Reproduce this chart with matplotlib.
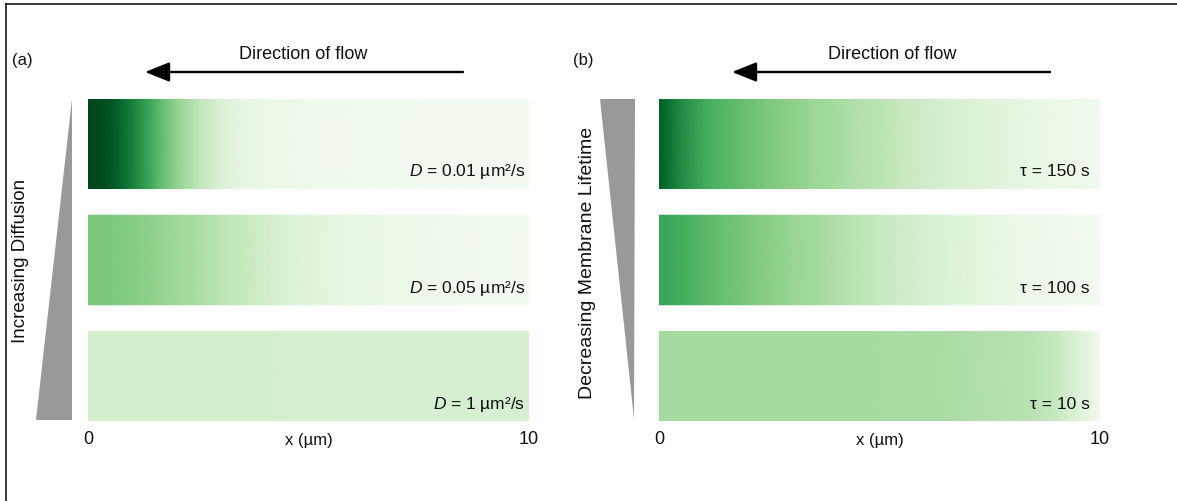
import numpy as np
import matplotlib
matplotlib.use("Agg")
import matplotlib.pyplot as plt
from matplotlib.patches import Polygon
from matplotlib.lines import Line2D

plt.rcParams['font.family'] = ['Liberation Sans', 'DejaVu Sans']
plt.rcParams['mathtext.fontset'] = 'custom'
plt.rcParams['mathtext.it'] = 'Liberation Sans:italic'
plt.rcParams['mathtext.rm'] = 'Liberation Sans'

# ---------------- data ----------------
x_samples = [0, 0.5, 1, 1.5, 2, 2.5, 3, 3.5, 4, 4.5, 5, 5.5, 6, 6.5, 7, 7.5, 8, 8.5, 9, 9.5, 10]

labels_a = ["$D$ = 0.01 µm²/s", "$D$ = 0.05 µm²/s", "$D$ = 1 µm²/s"]
conc_D001 = [1.00, 0.95, 0.80, 0.60, 0.42, 0.28, 0.17, 0.11, 0.08, 0.065, 0.055,
             0.05, 0.045, 0.042, 0.04, 0.037, 0.035, 0.033, 0.032, 0.03, 0.03]
conc_D005 = [0.48, 0.47, 0.45, 0.42, 0.38, 0.34, 0.29, 0.25, 0.21, 0.17, 0.14,
             0.12, 0.10, 0.09, 0.08, 0.07, 0.06, 0.05, 0.045, 0.04, 0.035]
conc_D1 = [0.20, 0.20, 0.20, 0.20, 0.20, 0.20, 0.20, 0.20, 0.20, 0.195, 0.195,
           0.195, 0.19, 0.19, 0.19, 0.19, 0.19, 0.19, 0.19, 0.19, 0.19]

labels_b = ["τ = 150 s", "τ = 100 s", "τ = 10 s"]
conc_t150 = [0.92, 0.75, 0.63, 0.57, 0.52, 0.47, 0.43, 0.39, 0.36, 0.32, 0.29,
             0.25, 0.22, 0.19, 0.17, 0.145, 0.12, 0.10, 0.08, 0.06, 0.04]
conc_t100 = [0.65, 0.62, 0.57, 0.52, 0.48, 0.44, 0.40, 0.37, 0.33, 0.29, 0.25,
             0.22, 0.19, 0.165, 0.14, 0.11, 0.085, 0.07, 0.06, 0.045, 0.03]
conc_t10 = [0.36, 0.36, 0.36, 0.36, 0.36, 0.36, 0.36, 0.36, 0.36, 0.36, 0.355,
            0.35, 0.345, 0.34, 0.33, 0.32, 0.31, 0.295, 0.25, 0.16, 0.05]

xticks = [0, 10]
xtick_labels = ["0", "10"]
x_label = "x (µm)"
panel_letters = ["(a)", "(b)"]
side_labels = ["Increasing Diffusion", "Decreasing Membrane Lifetime"]
flow_label = "Direction of flow"

# ---------------- figure ----------------
W, H = 1177, 501
fig = plt.figure(figsize=(W / 100, H / 100), dpi=100)

# overlay axes in pixel units for decorations
ov = fig.add_axes([0, 0, 1, 1])
ov.set_xlim(0, W)
ov.set_ylim(H, 0)
ov.axis('off')

# frame lines (top and left)
ov.add_line(Line2D([5.5, W], [3.5, 3.5], color='black', lw=1.1))
ov.add_line(Line2D([5.5, 5.5], [3.5, H], color='black', lw=1.1))

# triangles
ov.add_patch(Polygon([[36, 420], [71.5, 420], [71.5, 99]], closed=True,
                     facecolor='#999999', edgecolor='none'))
ov.add_patch(Polygon([[600, 99], [635, 99], [634, 419]], closed=True,
                     facecolor='#999999', edgecolor='none'))

# arrows + flow text
for tail, tip, tx in [(463, 145, 303), (1050, 732, 892)]:
    ov.annotate("", xy=(tip, 72), xytext=(tail, 72),
                arrowprops=dict(arrowstyle="-|>,head_length=1.0,head_width=0.4",
                                mutation_scale=15, lw=1.7, color='black',
                                shrinkA=0, shrinkB=0))
    ov.text(tx, 54, flow_label, ha='center', va='center', fontsize=13, color='#111111')

ov.text(12, 60, panel_letters[0], ha='left', va='center', fontsize=12, color='#111111')
ov.text(573, 60, panel_letters[1], ha='left', va='center', fontsize=12, color='#111111')
ov.text(21, 261, side_labels[0], ha='center', va='center', rotation=90,
        fontsize=13.5, color='#111111')
ov.text(588, 263, side_labels[1], ha='center', va='center', rotation=90,
        fontsize=14, color='#111111')

# panel axes
bar_h = 0.77
ylim_top = 2.77
ax_bottom = 1 - 421 / H
ax_height = (421 - 99) / H
panels = [
    (88, [conc_D001, conc_D005, conc_D1], labels_a, 9.92),
    (659, [conc_t150, conc_t100, conc_t10], labels_b, 9.76),
]
for left_px, concs, labs, lab_x in panels:
    ax = fig.add_axes([left_px / W, ax_bottom, 441 / W, ax_height])
    ax.set_xlim(0, 10)
    ax.set_ylim(ylim_top, 0)
    for i, (c, lab) in enumerate(zip(concs, labs)):
        X = np.array([x_samples, x_samples])
        Y = np.array([[i] * len(x_samples), [i + bar_h] * len(x_samples)])
        C = np.array([c, c])
        ax.pcolormesh(X, Y, C, shading='gouraud', cmap='Greens', vmin=0, vmax=1)
        ax.text(lab_x, i + bar_h - 0.105, lab, ha='right', va='baseline',
                fontsize=12.5, color='#111111')
    for s in ax.spines.values():
        s.set_visible(False)
    ax.set_yticks([])
    ax.set_xticks(xticks)
    ax.set_xticklabels(xtick_labels, fontsize=13, color='#111111')
    ax.tick_params(axis='x', length=0, pad=7)
    ax.text(0.5, -0.062, x_label, transform=ax.transAxes, ha='center', va='center',
            fontsize=12, color='#111111')
    ax.set_facecolor('none')

fig.savefig("out.png", dpi=100)
